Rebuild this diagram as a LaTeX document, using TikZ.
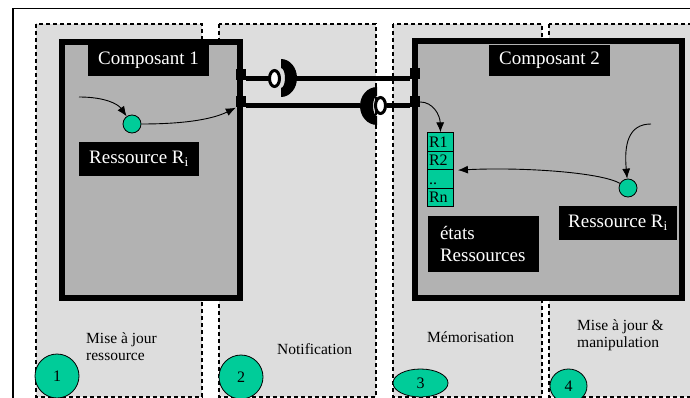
\documentclass[tikz,border=0pt]{standalone}
\usepackage{fontspec}
\setmainfont{Liberation Serif}
\usetikzlibrary{arrows.meta,shapes.geometric}
\definecolor{colbg}{RGB}{221,221,221}
\definecolor{compbg}{RGB}{178,178,178}
\definecolor{vert}{RGB}{0,204,153}
\begin{document}
\begin{tikzpicture}[x=1pt,y=-1pt,
 colbox/.style={fill=colbg, draw=black, line width=1.3pt, dash pattern=on 4pt off 3pt},
 compbox/.style={fill=compbg, draw=black, line width=6pt},
 title/.style={fill=black, text=white, font=\fontsize{19}{22}\selectfont, inner sep=0pt},
 dot/.style={circle, fill=vert, draw=black, line width=0.8pt, minimum size=18pt, inner sep=0pt},
 arr/.style={-{Latex[length=10pt,width=8pt]}, line width=0.9pt},
 wire/.style={line width=5pt},
 port/.style={fill=black, minimum width=10pt, minimum height=11pt, inner sep=0pt},
 ring/.style={ellipse, draw=black, fill=white, line width=3pt, minimum width=10pt, minimum height=16pt, inner sep=0pt},
 cell/.style={rectangle, fill=vert, draw=black, line width=0.8pt, text width=23pt, align=left, inner xsep=1.5pt, inner ysep=0pt, minimum height=18.5pt, text height=10.5pt, text depth=0pt, font=\fontsize{16}{16}\selectfont},
 lbl/.style={font=\fontsize{15.5}{17}\selectfont, inner sep=0pt, anchor=base west},
 num/.style={fill=vert, draw=black, line width=0.8pt, inner sep=0pt, font=\fontsize{16}{16}\selectfont}
]
\useasboundingbox (0,0) rectangle (690,398);
\clip (0,0) rectangle (690,398);
\fill[white] (0,0) rectangle (690,398);
% outer frame
\draw[line width=1.5pt] (12.75,8.75) rectangle (720,430);
% columns
\filldraw[colbox] (36,24) rectangle (202,397);
\filldraw[colbox] (219,24) rectangle (376,397);
\filldraw[colbox] (393,24) rectangle (542,397);
\filldraw[colbox] (549,24) rectangle (720,397);
% components
\filldraw[compbox] (62,42) rectangle (240,298);
\filldraw[compbox] (415,41) rectangle (682,298);
\node[title, minimum width=121pt, minimum height=31pt] (t1) at (148.5,60.5) {Composant 1};
\node[title, minimum width=121pt, minimum height=31pt] (t2) at (549.5,60.5) {Composant 2};
\node[title, minimum width=120pt, minimum height=34pt] (res1) at (139,159) {Ressource R\textsubscript{i}};
\node[title, minimum width=118pt, minimum height=34pt] (res2) at (618,223) {Ressource R\textsubscript{i}};
\node[title, text width=87pt, align=left, inner xsep=12pt, minimum height=56pt] (etats) at (483.5,244) {états\\Ressources};
% table
\node[cell] (R1) at (440.5,142) {R1};
\node[cell] (R2) at (440.5,160.5) {R2};
\node[cell] (Rd) at (440.5,179) {..};
\node[cell] (Rn) at (440.5,197.5) {Rn};
% ports
\node[port] (pA1) at (241,75) {};
\node[port] (pA2) at (241,102) {};
\node[port] (pB1) at (415,74) {};
\node[port] (pB2) at (415,102) {};
% rings positions
\coordinate (r1c) at (274.5,78.5);
\coordinate (r2c) at (380.5,105.5);
\coordinate (k1) at (297,78.5);
\coordinate (k2) at (360,105.5);
% wires
\draw[wire] (pA1.east |- r1c) -- ([xshift=-6pt]r1c);
\draw[wire] (k1) -- (pB1.west |- k1);
\draw[wire] (pA2.east |- k2) -- (k2);
\draw[wire] ([xshift=6pt]r2c) -- (pB2.west |- r2c);
\node[port] at (pA1) {};
\node[port] at (pA2) {};
\node[port] at (pB1) {};
\node[port] at (pB2) {};
% sockets
\fill (281,59) .. controls (289.8,59) and (297,67.5) .. (297,78) .. controls (297,88.5) and (289.8,97) .. (281,97) -- (281,88) .. controls (283.2,88) and (285,83.5) .. (285,78) .. controls (285,72.5) and (283.2,68) .. (281,68) -- cycle;
\fill (377,87) .. controls (367.6,87) and (360,95.5) .. (360,106) .. controls (360,116.5) and (367.6,125) .. (377,125) -- (377,116) .. controls (374.8,116) and (373,111.5) .. (373,106) .. controls (373,100.5) and (374.8,96) .. (377,96) -- cycle;
\node[ring] (r1) at (r1c) {};
\node[ring] (r2) at (r2c) {};
% resource dots and arrows
\node[dot] (c1) at (132,124) {};
\node[dot] (c2) at (628,188) {};
\coordinate (s1) at (79,97);
\coordinate (s2) at (651,124);
\draw[arr] (s1) .. controls (105,97) and (118,104) .. (c1);
\draw[arr] (c1) .. controls (190,124) and (215,118) .. (pA2.south west);
\draw[arr] (pB2.east) .. controls (433,102) and (440,115) .. (R1.north);
\draw[arr] (s2) .. controls (628,124) and (624,145) .. (c2);
\draw[arr] (c2) .. controls (600,172) and (520,167) .. ([xshift=4pt]R2.south east);
% bottom labels
\node[lbl] (m1a) at (86,343) {Mise à jour};
\node[lbl] (m1b) at (86,360) {ressource};
\node[lbl] (m2) at (277,354) {Notification};
\node[lbl] (m3) at (427,342) {Mémorisation};
\node[lbl] (m4a) at (577,330.5) {Mise à jour \&};
\node[lbl] (m4b) at (577,347.5) {manipulation};
% numbers
\node[num, circle, minimum size=44pt] (n1) at (57,376) {1};
\node[num, circle, minimum size=44pt] (n2) at (241,377) {2};
\node[num, ellipse, minimum width=55pt, minimum height=28pt] (n3) at (420.5,383) {3};
\node[num, ellipse, minimum width=37pt, minimum height=34pt] (n4) at (568.5,386) {4};
\end{tikzpicture}
\end{document}
